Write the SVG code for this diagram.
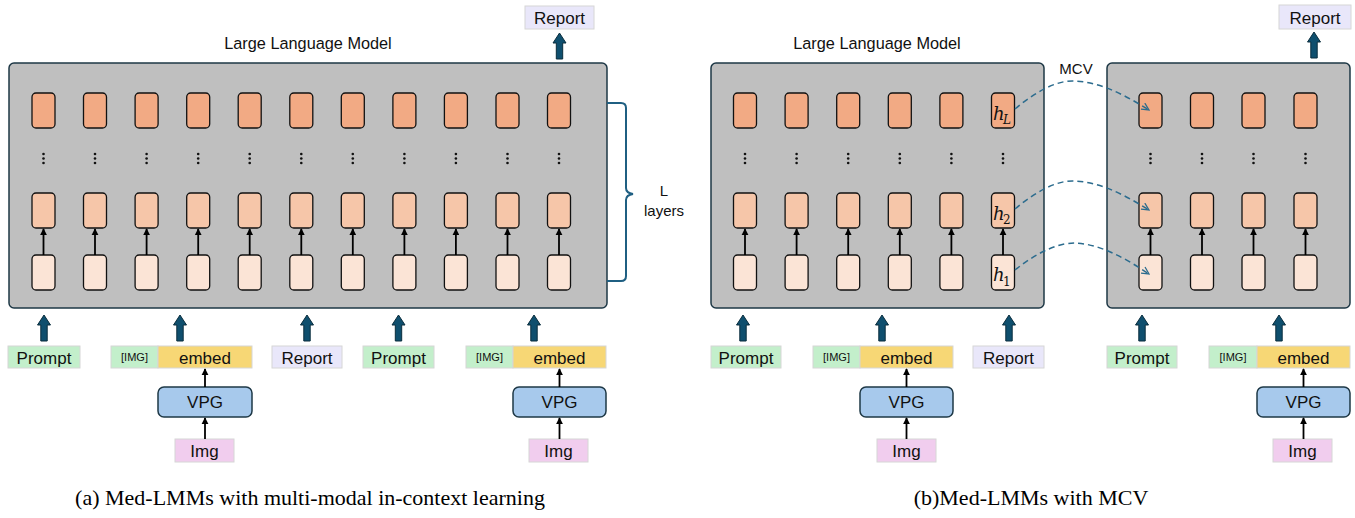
<svg xmlns="http://www.w3.org/2000/svg" width="1355" height="518" viewBox="0 0 1355 518">
  <defs>
    <style>
      .llm { fill: #bfbfbf; stroke: #1e3846; stroke-width: 1.5; }
      .t3 { fill: #f2aa84; stroke: #111; stroke-width: 1.3; }
      .t2 { fill: #f6c6a9; stroke: #111; stroke-width: 1.3; }
      .t1 { fill: #fbe4d6; stroke: #111; stroke-width: 1.3; }
      .thin { stroke: #000; stroke-width: 1.8; fill: none; marker-end: url(#tri); }
      .big { fill: #0f4f6e; stroke: #0a2d3d; stroke-width: 1; }
      .dash { fill: none; stroke: #2c6c8e; stroke-width: 1.5; stroke-dasharray: 6 4; marker-end: url(#chev); }
      .sans { font-family: "Liberation Sans", Arial, sans-serif; fill: #111; }
      .lbl { font-size: 17px; text-anchor: middle; }
      .small { font-size: 11px; text-anchor: middle; }
      .title { font-size: 16.3px; text-anchor: middle; }
      .cap { font-family: "Liberation Serif", "Times New Roman", serif; font-size: 22px; fill: #000; text-anchor: middle; }
      .dots { fill: #111; }
      .green { fill: #c3efcb; stroke: #d6d6d6; stroke-width: 1; }
      .yellow { fill: #f7d775; stroke: #d6d6d6; stroke-width: 1; }
      .lav { fill: #e9e7fa; stroke: #d6d6d6; stroke-width: 1; }
      .pink { fill: #f1cdee; stroke: #d6d6d6; stroke-width: 1; }
      .vpg { fill: #a7c9ec; stroke: #1e3846; stroke-width: 1.5; }
      .h { font-family: "DejaVu Serif", "Liberation Serif", serif; font-style: italic; font-size: 18px; fill: #111; }
      .hs { font-family: "DejaVu Serif", "Liberation Serif", serif; font-style: italic; font-size: 12px; fill: #111; }
      .hs1 { font-family: "DejaVu Serif", "Liberation Serif", serif; font-size: 12px; fill: #111; }
    </style>
    <marker id="tri" viewBox="0 0 10 10" refX="9" refY="5" markerWidth="4" markerHeight="4" orient="auto" markerUnits="strokeWidth">
      <path d="M0,0 L10,5 L0,10 z" fill="#000"/>
    </marker>
    <marker id="chev" viewBox="0 0 10 10" refX="9" refY="5" markerWidth="9" markerHeight="9" orient="auto" markerUnits="userSpaceOnUse">
      <path d="M1,1 L9,5 L1,9" fill="none" stroke="#2c6c8e" stroke-width="1.4"/>
    </marker>
    <!-- token column: three layers, dots and an inner arrow -->
    <g id="col">
      <rect class="t3" x="-11.5" y="93" width="23" height="35" rx="4"/>
      <circle class="dots" cx="0" cy="154" r="1.3"/>
      <circle class="dots" cx="0" cy="158.5" r="1.3"/>
      <circle class="dots" cx="0" cy="163" r="1.3"/>
      <rect class="t2" x="-11.5" y="193" width="23" height="35" rx="4"/>
      <rect class="t1" x="-11.5" y="255" width="23" height="35" rx="4"/>
      <line class="thin" x1="0" y1="255" x2="0" y2="229"/>
    </g>
    <!-- thick upward arrow, 26px tall -->
    <path id="up" class="big" d="M0,0 L6.5,10 L3.2,10 L3.2,26 L-3.2,26 L-3.2,10 L-6.5,10 Z"/>
  </defs>

  <!-- (a) multi-modal in-context learning -->
  <g id="llm-a">
    <text class="sans title" x="308" y="49">Large Language Model</text>
    <rect class="llm" x="9" y="63" width="598" height="245" rx="5"/>
    <use href="#col" x="43.5"/>
    <use href="#col" x="95"/>
    <use href="#col" x="146.6"/>
    <use href="#col" x="198.2"/>
    <use href="#col" x="249.7"/>
    <use href="#col" x="301.3"/>
    <use href="#col" x="352.8"/>
    <use href="#col" x="404.4"/>
    <use href="#col" x="455.9"/>
    <use href="#col" x="507.5"/>
    <use href="#col" x="559"/>
  </g>
  <g id="bracket-a">
    <path d="M607,103 L621,103 Q626,103 626,108 L626,188 Q626,193 633,194 Q626,195 626,200 L626,276 Q626,281 621,281 L607,281" fill="none" stroke="#1f5f82" stroke-width="2"/>
    <text class="sans" x="664" y="196" font-size="15" text-anchor="middle">L</text>
    <text class="sans" x="664" y="216" font-size="15" text-anchor="middle">layers</text>
  </g>
  <g id="report-out-a">
    <rect class="lav" x="525" y="6" width="69" height="23"/>
    <text class="sans lbl" x="559.5" y="23.5">Report</text>
  </g>
  <g id="prompt-a1">
    <rect class="green" x="8" y="346" width="72" height="22"/>
    <text class="sans lbl" x="44" y="363.5">Prompt</text>
  </g>
  <g id="embed-a1">
    <rect class="green" x="111" y="346" width="47" height="22"/>
    <rect class="yellow" x="158" y="346" width="94" height="22"/>
    <text class="sans small" x="134.5" y="361">[IMG]</text>
    <text class="sans lbl" x="205" y="363.5">embed</text>
  </g>
  <g id="vpg-a1">
    <rect class="vpg" x="158" y="387" width="94" height="30" rx="6"/>
    <text class="sans lbl" x="205" y="408">VPG</text>
  </g>
  <g id="img-a1">
    <rect class="pink" x="175" y="439" width="59" height="23"/>
    <text class="sans lbl" x="204.5" y="456.5">Img</text>
  </g>
  <g id="report-a">
    <rect class="lav" x="272" y="346" width="70" height="22"/>
    <text class="sans lbl" x="307" y="363.5">Report</text>
  </g>
  <g id="prompt-a2">
    <rect class="green" x="363" y="346" width="71" height="22"/>
    <text class="sans lbl" x="398.5" y="363.5">Prompt</text>
  </g>
  <g id="embed-a2">
    <rect class="green" x="466" y="346" width="47" height="22"/>
    <rect class="yellow" x="513" y="346" width="93" height="22"/>
    <text class="sans small" x="489.5" y="361">[IMG]</text>
    <text class="sans lbl" x="559.5" y="363.5">embed</text>
  </g>
  <g id="vpg-a2">
    <rect class="vpg" x="513" y="387" width="93" height="30" rx="6"/>
    <text class="sans lbl" x="559.5" y="408">VPG</text>
  </g>
  <g id="img-a2">
    <rect class="pink" x="529" y="439" width="59" height="23"/>
    <text class="sans lbl" x="558.5" y="456.5">Img</text>
  </g>

  <!-- (b) MCV -->
  <g id="llm-b1">
    <text class="sans title" x="877" y="49">Large Language Model</text>
    <rect class="llm" x="711" y="63" width="333" height="245" rx="5"/>
    <use href="#col" x="745"/>
    <use href="#col" x="796.6"/>
    <use href="#col" x="848.2"/>
    <use href="#col" x="899.8"/>
    <use href="#col" x="951.4"/>
    <use href="#col" x="1003"/>
    <text class="h" x="993" y="120">h</text><text class="hs" x="1003" y="124">L</text>
    <text class="h" x="993" y="220">h</text><text class="hs1" x="1003" y="224">2</text>
    <text class="h" x="993" y="281">h</text><text class="hs1" x="1003" y="286">1</text>
  </g>
  <g id="llm-b2">
    <rect class="llm" x="1107" y="63" width="243" height="245" rx="5"/>
    <use href="#col" x="1150.5"/>
    <use href="#col" x="1202"/>
    <use href="#col" x="1253.5"/>
    <use href="#col" x="1305.5"/>
  </g>
  <g id="mcv">
    <text class="sans" x="1076" y="74" font-size="15" text-anchor="middle">MCV</text>
  </g>
  <g id="report-out-b">
    <rect class="lav" x="1279" y="5" width="72" height="24"/>
    <text class="sans lbl" x="1315" y="23.5">Report</text>
  </g>
  <g id="prompt-b1">
    <rect class="green" x="711" y="346" width="70" height="22"/>
    <text class="sans lbl" x="746" y="363.5">Prompt</text>
  </g>
  <g id="embed-b1">
    <rect class="green" x="813" y="346" width="47" height="22"/>
    <rect class="yellow" x="860" y="346" width="93" height="22"/>
    <text class="sans small" x="836.5" y="361">[IMG]</text>
    <text class="sans lbl" x="906.5" y="363.5">embed</text>
  </g>
  <g id="vpg-b1">
    <rect class="vpg" x="860" y="387" width="93" height="30" rx="6"/>
    <text class="sans lbl" x="906.5" y="408">VPG</text>
  </g>
  <g id="img-b1">
    <rect class="pink" x="877" y="439" width="59" height="23"/>
    <text class="sans lbl" x="906.5" y="456.5">Img</text>
  </g>
  <g id="report-b">
    <rect class="lav" x="973" y="346" width="71" height="22"/>
    <text class="sans lbl" x="1008.5" y="363.5">Report</text>
  </g>
  <g id="prompt-b2">
    <rect class="green" x="1107" y="346" width="70" height="22"/>
    <text class="sans lbl" x="1142" y="363.5">Prompt</text>
  </g>
  <g id="embed-b2">
    <rect class="green" x="1209" y="346" width="48" height="22"/>
    <rect class="yellow" x="1257" y="346" width="93" height="22"/>
    <text class="sans small" x="1233" y="361">[IMG]</text>
    <text class="sans lbl" x="1303.5" y="363.5">embed</text>
  </g>
  <g id="vpg-b2">
    <rect class="vpg" x="1257" y="387" width="93" height="30" rx="6"/>
    <text class="sans lbl" x="1303.5" y="408">VPG</text>
  </g>
  <g id="img-b2">
    <rect class="pink" x="1273" y="439" width="59" height="23"/>
    <text class="sans lbl" x="1302.5" y="456.5">Img</text>
  </g>

  <!-- connectors -->
  <g id="connectors">
    <use href="#up" x="44" y="315"/>
    <use href="#up" x="180" y="315"/>
    <use href="#up" x="307" y="315"/>
    <use href="#up" x="398.5" y="315"/>
    <use href="#up" x="534" y="315"/>
    <use href="#up" x="559.5" y="33"/>
    <use href="#up" x="743" y="315"/>
    <use href="#up" x="882" y="315"/>
    <use href="#up" x="1009" y="315"/>
    <use href="#up" x="1142" y="315"/>
    <use href="#up" x="1279" y="315"/>
    <use href="#up" x="1314" y="32"/>

    <line class="thin" x1="205" y1="387" x2="205" y2="369"/>
    <line class="thin" x1="205" y1="439" x2="205" y2="418"/>
    <line class="thin" x1="559.5" y1="387" x2="559.5" y2="369"/>
    <line class="thin" x1="559.5" y1="439" x2="559.5" y2="418"/>
    <line class="thin" x1="906.5" y1="387" x2="906.5" y2="369"/>
    <line class="thin" x1="906.5" y1="439" x2="906.5" y2="418"/>
    <line class="thin" x1="1303.5" y1="387" x2="1303.5" y2="369"/>
    <line class="thin" x1="1303.5" y1="439" x2="1303.5" y2="418"/>

    <path class="dash" d="M1015,109 C1040,88 1060,80 1075,81 C1100,82 1125,95 1149,110"/>
    <path class="dash" d="M1015,209 C1040,188 1060,180 1075,181 C1100,182 1125,195 1149,210"/>
    <path class="dash" d="M1015,270 C1040,250 1060,243 1075,243 C1100,244 1125,258 1149,274"/>
  </g>

  <!-- captions -->
  <text class="cap" x="310" y="505">(a) Med-LMMs with multi-modal in-context learning</text>
  <text class="cap" x="1031" y="505">(b)Med-LMMs with MCV</text>
</svg>
